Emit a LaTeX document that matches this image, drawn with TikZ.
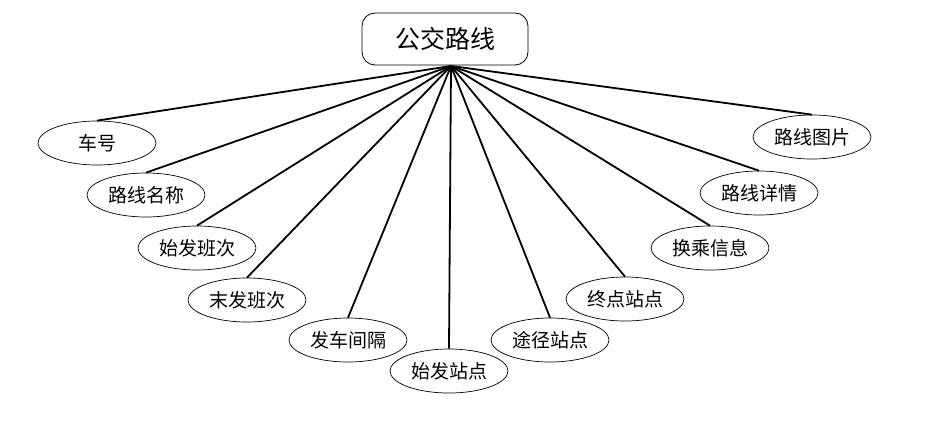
\documentclass[tikz,border=0pt]{standalone}
\usepackage{fontspec}
\newfontfamily\cjk{Noto Sans CJK SC}
\usetikzlibrary{shapes.geometric}
\begin{document}
\begin{tikzpicture}[x=1pt,y=-1pt,
  topbox/.style={draw, rounded corners=13pt, minimum width=166pt, minimum height=52pt, line width=0.8pt, inner sep=0pt, font=\cjk\fontsize{25}{28}\selectfont},
  item/.style={draw, ellipse, minimum width=118pt, minimum height=44pt, line width=0.7pt, inner sep=0pt, font=\cjk\fontsize{19}{22}\selectfont},
  link/.style={line width=1.8pt}]
\useasboundingbox (0,0) rectangle (928,423);
\node[topbox] (top) at (445,39) {公交路线};
\coordinate (hub) at (451,66);
\node[item] (a1) at (97,143) {车号};
\node[item] (a2) at (146,195) {路线名称};
\node[item] (a3) at (197,248) {始发班次};
\node[item] (a4) at (247,300) {末发班次};
\node[item] (a5) at (348,340) {发车间隔};
\node[item] (a6) at (449,371) {始发站点};
\node[item] (a7) at (550,340) {途径站点};
\node[item] (a8) at (625,299) {终点站点};
\node[item] (a9) at (710,248) {换乘信息};
\node[item] (a10) at (759,193) {路线详情};
\node[item] (a11) at (812,137) {路线图片};
\foreach \n in {a1,a2,a3,a4,a5,a6,a7,a8,a9,a10,a11}
  \draw[link] (hub) -- (\n.north);
\end{tikzpicture}
\end{document}
